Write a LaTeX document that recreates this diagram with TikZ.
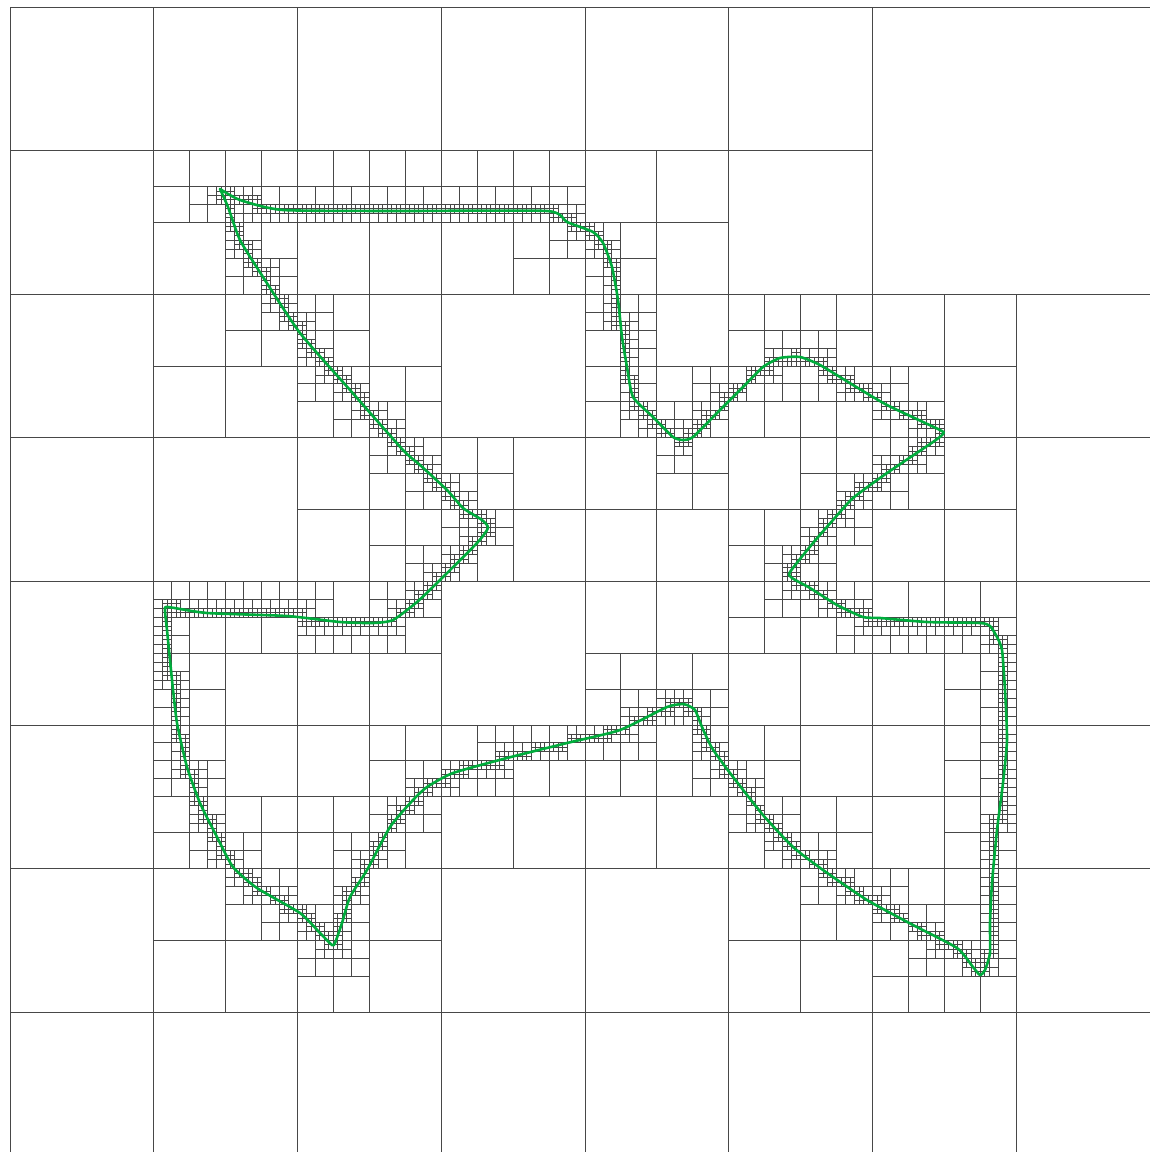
\documentclass[tikz,border=0pt]{standalone}
\definecolor{curvegreen}{RGB}{0,172,60}
\tikzset{
  gridline/.style={draw=black!72,line width=0.47pt},
  outline/.style={draw=curvegreen,line width=1.3pt,line join=round,line cap=round}
}
\newcount\kk
\def\CurvePts{220/189,240/200,283/210,400/211,547/211,567/222,593/232,603/243,612/267,618/300,622/337,627/367,633/397,653/417,673/437,683/440,693/437,717/413,743/387,763/367,780/358,800/357,820/365,853/385,887/405,940/430,943/434,933/442,887/473,853/498,833/520,813/543,790/572,792/578,810/588,837/605,863/617,880/618,927/622,980/623,990/626,997/637,1002/650,1005/690,1007/740,1003/783,997/830,992/883,990/923,990/953,985/970,980/975,973/967,957/948,913/925,867/900,823/870,793/847,763/815,730/773,712/748,702/727,695/710,687/705,683/704,667/707,620/730,567/743,507/758,453/773,427/787,413/800,390/827,367/870,350/897,342/923,335/943,332/945,320/933,300/913,257/888,233/867,217/837,200/803,187/767,177/723,172/680,167/630,165/610,168/607,207/613,287/616,340/622,373/623,393/620,417/602,440/580,477/543,488/528,482/520,463/508,447/490,420/465,403/450,350/390,300/333,263/277,240/240,228/207,220/189}
% one split cell of the quadtree: a cross through its centre
\def\drawcross#1#2#3{%
  \edef\HH{\ifcase#1 128\or 64\or 32\or 16\or 8\or 4\or 2\or 1\fi}%
  \edef\xm{\the\numexpr(2*#2+1)*\HH\relax}%
  \edef\ym{\the\numexpr(2*#3+1)*\HH\relax}%
  \edef\xa{\the\numexpr2*#2*\HH\relax}%
  \edef\xb{\the\numexpr2*(#2+1)*\HH\relax}%
  \edef\ya{\the\numexpr2*#3*\HH\relax}%
  \edef\yb{\the\numexpr2*(#3+1)*\HH\relax}%
  \draw[gridline] (\xm,\ya)--(\xm,\yb) (\xa,\ym)--(\xb,\ym);%
}
\def\markcell#1#2#3{%
  \ifcsname q#1.#2.#3\endcsname\else
    \expandafter\gdef\csname q#1.#2.#3\endcsname{}%
    \drawcross{#1}{#2}{#3}%
    \ifnum#1>0
      \edef\tmpA{{\the\numexpr#1-1\relax}{\the\numexpr(2*#2-1)/4\relax}{\the\numexpr(2*#3-1)/4\relax}}%
      \expandafter\markcell\tmpA
    \fi
  \fi
}
\def\walkseg#1#2#3#4{%
  \edef\dxx{\the\numexpr#3-#1\relax}\edef\dyy{\the\numexpr#4-#2\relax}%
  \edef\adx{\ifnum\dxx<0 \the\numexpr-\dxx\relax\else\dxx\fi}%
  \edef\ady{\ifnum\dyy<0 \the\numexpr-\dyy\relax\else\dyy\fi}%
  \edef\nst{\the\numexpr\ifnum\adx>\ady\space\adx\else\ady\fi+1\relax}%
  \kk=0
  \loop
    \edef\XX{\the\numexpr(#1-10)*1000+\kk*\dxx*1000/\nst\relax}%
    \edef\YY{\the\numexpr(#2-7)*1000+\kk*\dyy*1000/\nst\relax}%
    \edef\ii{\the\numexpr(\XX*128-575000)/1150000\relax}%
    \edef\jj{\the\numexpr(\YY*128-574400)/1148800\relax}%
    \markcell{7}{\ii}{\jj}%
    \advance\kk by 1
  \ifnum\kk<\nst\repeat
}
\begin{document}
\begin{tikzpicture}[x=0.5pt,y=-0.5pt]
  \useasboundingbox (0,0) rectangle (1150,1152);
  \fill[white] (0,0) rectangle (1150,1152);
  \clip (0,0) rectangle (1150,1152);
  \begin{scope}[shift={(10,7)},x=2.24609pt,y=-2.24375pt]
    \draw[gridline] (256,0)--(0,0)--(0,256)--(256,256)--cycle;
    \gdef\prevX{}%
    \foreach \px/\py in \CurvePts {%
      \ifx\prevX\empty\else
        \walkseg{\prevX}{\prevY}{\px}{\py}%
      \fi
      \xdef\prevX{\px}\xdef\prevY{\py}%
    }
  \end{scope}
  \draw[outline] plot[smooth,tension=0.35] coordinates {(220,189) (240,200) (283,210) (400,211) (547,211) (567,222) (593,232) (603,243) (612,267) (618,300) (622,337) (627,367) (633,397) (653,417) (673,437) (683,440) (693,437) (717,413) (743,387) (763,367) (780,358) (800,357) (820,365) (853,385) (887,405) (940,430) (943,434) (933,442) (887,473) (853,498) (833,520) (813,543) (790,572) (792,578) (810,588) (837,605) (863,617) (880,618) (927,622) (980,623) (990,626) (997,637) (1002,650) (1005,690) (1007,740) (1003,783) (997,830) (992,883) (990,923) (990,953) (985,970) (980,975) (973,967) (957,948) (913,925) (867,900) (823,870) (793,847) (763,815) (730,773) (712,748) (702,727) (695,710) (687,705) (683,704) (667,707) (620,730) (567,743) (507,758) (453,773) (427,787) (413,800) (390,827) (367,870) (350,897) (342,923) (335,943) (332,945) (320,933) (300,913) (257,888) (233,867) (217,837) (200,803) (187,767) (177,723) (172,680) (167,630) (165,610) (168,607) (207,613) (287,616) (340,622) (373,623) (393,620) (417,602) (440,580) (477,543) (488,528) (482,520) (463,508) (447,490) (420,465) (403,450) (350,390) (300,333) (263,277) (240,240) (228,207) (220,189)};
\end{tikzpicture}
\end{document}
